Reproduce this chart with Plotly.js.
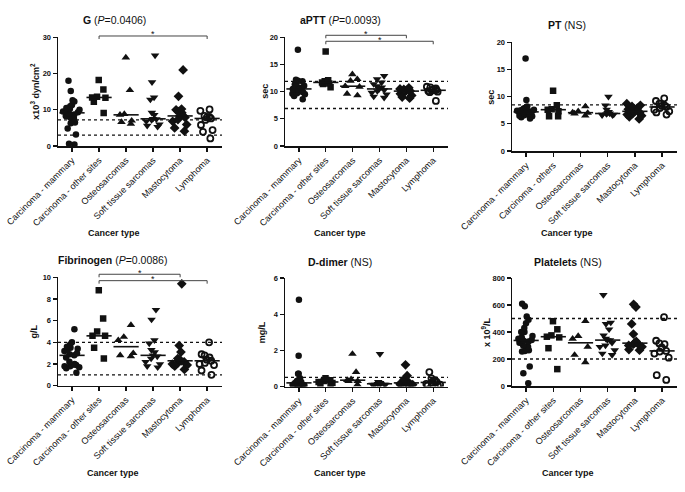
<!DOCTYPE html>
<html><head><meta charset="utf-8">
<script src="https://cdn.plot.ly/plotly-3.0.1.min.js"></script>
<style>html,body{margin:0;padding:0;background:#fff}#chart{width:685px;height:492px}</style>
</head><body><div id="chart"></div>
<script>
// ---------- DATA ----------
const categories = ['Carcinoma - mammary','Carcinoma - other sites','Osteosarcomas','Soft tissue sarcomas','Mastocytoma','Lymphoma'];
const categoriesPT = ['Carcinoma - mammary','Carcinoma - others','Osteosarcomas','Soft tissue sarcomas','Mastocytoma','Lymphoma'];

const gValues = [
  [18.0,15.2,12.6,12.3,11.3,11.0,10.5,10.3,10.0,9.8,9.5,9.3,9.0,8.7,8.3,8.0,7.5,7.2,6.5,6.3,4.8,3.2,0.4,0.6],
  [18.2,15.6,13.6,13.4,13.3,12.2,9.1],
  [24.4,15.4,8.8,8.6,7.0,6.1,6.6],
  [25.0,17.6,13.4,12.8,9.2,8.6,7.5,7.4,7.2,6.8,6.0,5.6,5.3],
  [21.0,13.7,10.2,10.0,9.5,9.2,8.3,7.9,7.3,6.8,5.9,5.0,4.1],
  [10.1,9.7,8.3,8.0,7.9,7.6,7.2,5.8,4.4,3.9,2.1]
];
const apttValues = [
  [17.7,12.2,12.0,11.9,11.6,11.3,11.1,10.9,10.7,10.5,10.4,10.2,10.0,9.9,9.7,9.6,9.5,9.2,8.6],
  [17.4,12.1,11.9,11.7,11.5,11.4,10.8],
  [13.2,12.3,12.0,11.0,10.9,9.6,9.3],
  [12.9,12.3,11.7,11.4,11.0,10.8,10.5,10.3,10.1,9.8,9.5,9.1,8.9],
  [10.7,10.5,10.4,10.3,10.2,10.1,9.9,9.6,9.3,9.0,8.8],
  [10.9,10.8,10.6,10.4,10.3,10.2,10.1,10.0,9.9,8.3]
];
const ptValues = [
  [17.0,9.4,8.2,8.0,7.9,7.8,7.7,7.6,7.5,7.4,7.3,7.2,7.2,7.1,7.0,6.9,6.8,6.7,6.6,6.5,6.4,6.2,6.0],
  [11.1,8.4,7.7,7.6,7.3,6.4,6.4],
  [8.2,7.3,7.1,7.0,6.9,6.5],
  [10.0,8.4,7.6,7.2,7.0,6.9,6.8,6.7,6.7,6.6,6.6],
  [8.7,8.4,8.2,7.9,7.7,7.5,7.4,7.2,7.1,6.9,6.7,6.5,6.3,5.9],
  [9.7,9.2,8.7,8.4,8.3,8.1,7.9,7.6,7.3,7.1,6.7]
];
const fibValues = [
  [5.2,4.0,3.8,3.6,3.5,3.4,3.3,3.2,3.0,2.9,2.8,2.6,2.2,2.0,1.9,1.9,1.8,1.8,1.7,1.6,1.2],
  [8.8,6.2,5.0,4.6,4.6,3.5,2.5],
  [5.6,4.5,4.2,3.0,2.8,2.7],
  [7.0,6.1,4.2,3.9,3.3,3.1,2.8,2.7,2.5,2.2,2.0,1.8,1.7],
  [9.4,3.7,3.1,2.5,2.4,2.3,2.3,2.2,2.1,2.0,1.9,1.8,1.5],
  [4.0,2.9,2.8,2.6,2.4,2.3,2.1,2.0,1.9,1.4,1.0]
];
const ddimerValues = [
  [4.8,1.7,0.7,0.7,0.45,0.35,0.3,0.25,0.2,0.2,0.2,0.15,0.15,0.1,0.1,0.1,0.1,0.05,0.05,0.05],
  [0.45,0.35,0.3,0.25,0.2,0.15,0.1],
  [1.8,0.8,0.4,0.35,0.3,0.3,0.1],
  [1.8,0.25,0.2,0.2,0.2,0.15,0.15,0.1,0.1,0.1,0.1],
  [1.2,0.6,0.4,0.3,0.25,0.2,0.2,0.15,0.15,0.1,0.1,0.1],
  [0.8,0.45,0.35,0.3,0.25,0.2,0.15,0.1,0.05,0.05]
];
const plateletValues = [
  [610,590,515,490,465,430,400,400,370,360,350,340,335,330,320,300,290,275,265,260,255,145,95,20],
  [480,420,375,365,360,280,125],
  [480,370,350,290,230,175],
  [675,470,460,420,375,350,340,340,320,300,290,265,240,230],
  [605,585,460,385,330,320,315,310,300,290,270,265],
  [510,335,315,310,285,260,255,240,210,80,45]
];

const panelTitles = ['<b>G</b> (<i>P</i>=0.0406)','<b>aPTT</b> (<i>P</i>=0.0093)','<b>PT</b> (NS)',
                     '<b>Fibrinogen</b> (<i>P</i>=0.0086)','<b>D-dimer</b> (NS)','<b>Platelets</b> (NS)'];
const yTitles = ['x10<sup>3</sup> dyn/cm<sup>2</sup>','sec','sec','g/L','mg/L','x 10<sup>9</sup>/L'];
const yRanges = [[0,30],[0,20],[0,20],[0,10],[0,6],[0,800]];
const yDticks = [10,5,5,2,2,200];
const refLines = [[7.2,3.0],[11.9,6.9],[8.5],[4,1],[0.5],[500,200]];
const brackets = [
  [{from:1,to:5,y:30.36}],
  [{from:1,to:4,y:20.37},{from:1,to:5,y:19.27}],
  [],
  [{from:1,to:4,y:10.28},{from:1,to:5,y:9.69}],
  [],[]
];
const xTitle = 'Cancer type';

// ---------- LAYOUT GEOMETRY (pixels) ----------
const W = 685, H = 492;
const boxes = [
  {l:58, r:222, t:37.3, b:146, tx:114, ty:20, yx:35, xy:233},
  {l:285,r:448, t:37.3, b:146, tx:340, ty:20, yx:265, xy:233},
  {l:512,r:677, t:42.3, b:151, tx:567, ty:25, yx:491, xy:233},
  {l:58, r:222, t:277.3,b:385.7,tx:113, ty:260, yx:33, xy:473},
  {l:285,r:448, t:278, b:386.5, tx:340, ty:262, yx:262, xy:473},
  {l:512,r:677, t:278, b:386, tx:568, ty:262, yx:486, xy:473}
];
const symbols = ['circle','square','triangle-up','triangle-down','diamond','circle-open'];
const symbolSizes = [6.5, 6.5, 7.5, 7.5, 7.5, 6];
const ink = '#111';
const FONT = 'Arial, "Liberation Sans", sans-serif';

function median(a){const s=[...a].sort((x,y)=>x-y);const n=s.length;return n%2?s[(n-1)/2]:(s[n/2-1]+s[n/2])/2;}

const allValues = [gValues, apttValues, ptValues, fibValues, ddimerValues, plateletValues];
const traces = [], shapes = [], annotations = [];
const layout = {
  width: W, height: H, margin:{l:0,r:0,t:0,b:0}, showlegend:false,
  paper_bgcolor:'#fff', plot_bgcolor:'#fff', font:{family:FONT, color:ink},
  shapes, annotations
};

allValues.forEach((vals, i) => {
  const s = i === 0 ? '' : String(i + 1);
  const cats = i === 2 ? categoriesPT : categories;
  const bx = boxes[i];
  const xa = 'x' + s, ya = 'y' + s;
  const range = yRanges[i];
  const yd = v => (v - range[0]) / (range[1] - range[0]);
  const plotH = bx.b - bx.t;

  layout['xaxis' + s] = {
    domain:[bx.l / W, bx.r / W], anchor: ya, type:'category',
    categoryorder:'array', categoryarray: cats, range:[-0.52, 5.55],
    showline:true, linecolor:ink, linewidth:1.5, ticks:'outside', ticklen:4, tickwidth:1.3, tickcolor:ink,
    tickangle:-45, tickfont:{size:9, family:FONT, color:ink}, showgrid:false, zeroline:false, fixedrange:true
  };
  layout['yaxis' + s] = {
    domain:[1 - bx.b / H, 1 - bx.t / H], anchor: xa, range: range, dtick: yDticks[i], tick0:0,
    showline:true, linecolor:ink, linewidth:1.5, ticks:'outside', ticklen:4, tickwidth:1.3, tickcolor:ink,
    tickfont:{size:7.5, family:FONT, color:ink, weight:'bold'}, showgrid:false, zeroline:false, fixedrange:true
  };

  vals.forEach((v, j) => {
    traces.push({
      type:'box', x: v.map(() => cats[j]), y: v, xaxis: xa, yaxis: ya,
      boxpoints:'all', jitter:0.95, pointpos:0, width:0.72,
      line:{width:0, color:'rgba(0,0,0,0)'}, fillcolor:'rgba(0,0,0,0)',
      marker:{symbol: symbols[j], size: symbolSizes[j], color: ink,
              line:{color: ink, width: j === 5 ? 1.8 : 0}},
      hoverinfo:'skip', showlegend:false
    });
  });
  traces.push({
    type:'scatter', mode:'markers', x: cats, y: vals.map(median), xaxis: xa, yaxis: ya,
    marker:{symbol:'line-ew', size:18, color:ink, line:{color:ink, width:1.6}},
    hoverinfo:'skip', showlegend:false, cliponaxis:false
  });

  refLines[i].forEach(v => shapes.push({
    type:'line', xref: xa + ' domain', yref: ya, x0:0, x1:1, y0:v, y1:v,
    line:{color:ink, width:1.3, dash:'dot'}, layer:'below'
  }));

  const drop = 3 / plotH;
  brackets[i].forEach(b => {
    const y = yd(b.y);
    shapes.push({type:'line', xref:xa, yref: ya + ' domain', x0:b.from, x1:b.to, y0:y, y1:y, line:{color:'#444', width:1}});
    shapes.push({type:'line', xref:xa, yref: ya + ' domain', x0:b.from, x1:b.from, y0:y, y1:y - drop, line:{color:'#444', width:1}});
    shapes.push({type:'line', xref:xa, yref: ya + ' domain', x0:b.to, x1:b.to, y0:y, y1:y - drop, line:{color:'#444', width:1}});
    annotations.push({xref:xa, yref: ya + ' domain', x:(b.from + b.to) / 2, y:y, text:'*', showarrow:false,
      xanchor:'center', yanchor:'middle', yshift:1.5, font:{size:9, family:FONT, color:ink}});
  });

  annotations.push({xref:'paper', yref:'paper', x: bx.tx / W, y: 1 - bx.ty / H, text: panelTitles[i],
    showarrow:false, xanchor:'center', yanchor:'middle', font:{size:10.5, family:FONT, color:ink}});
  annotations.push({xref:'paper', yref: ya + ' domain', x: bx.yx / W, y: 0.5, text: '<b>' + yTitles[i] + '</b>',
    textangle:-90, showarrow:false, xanchor:'center', yanchor:'middle', font:{size:9, family:FONT, color:ink}});
  annotations.push({xref:'paper', yref:'paper', x: bx.tx / W, y: 1 - bx.xy / H, text: '<b>' + xTitle + '</b>',
    showarrow:false, xanchor:'center', yanchor:'middle', font:{size:9, family:FONT, color:ink}});
});

Plotly.newPlot('chart', traces, layout, {staticPlot:true, displayModeBar:false});
</script>
</body></html>
